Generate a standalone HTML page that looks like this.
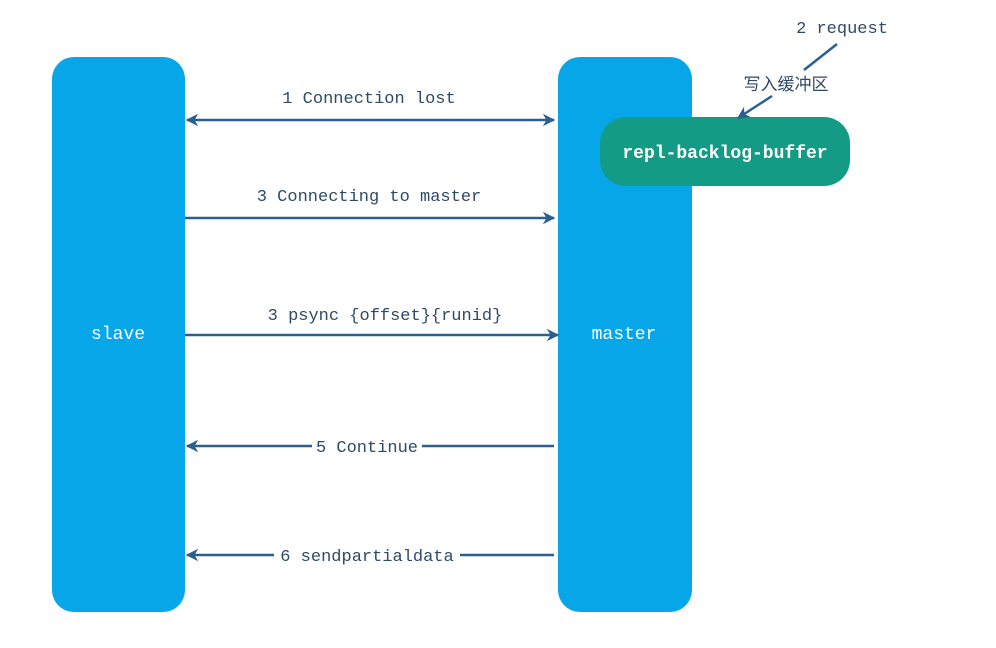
<!DOCTYPE html>
<html><head><meta charset="utf-8"><style>html,body{margin:0;padding:0;background:#fff}</style></head>
<body>
<svg width="996" height="643" viewBox="0 0 996 643" xmlns="http://www.w3.org/2000/svg">
<defs>
<marker id="a" viewBox="0 0 10 10" refX="9" refY="5" markerWidth="5" markerHeight="5" orient="auto-start-reverse"><path d="M0,0 L10,5 L0,10 L3,5 z" fill="#2b5f8e"/></marker>
</defs>
<rect x="52" y="57" width="133" height="555" rx="22" fill="#06a6e8"/>
<rect x="558" y="57" width="134" height="555" rx="22" fill="#06a6e8"/>
<rect x="600" y="117" width="250" height="69" rx="26" fill="#139b86"/>
<g font-family="Liberation Mono, monospace" font-size="18" fill="#fff" text-anchor="middle">
<text x="118" y="339">slave</text>
<text x="624" y="339">master</text>
<text x="725" y="158" font-weight="bold">repl-backlog-buffer</text>
</g>
<g stroke="#2b5f8e" stroke-width="2.5" fill="none">
<line x1="187" y1="120" x2="554" y2="120" marker-start="url(#a)" marker-end="url(#a)"/>
<line x1="185" y1="218" x2="554" y2="218" marker-end="url(#a)"/>
<line x1="185" y1="335" x2="558" y2="335" marker-end="url(#a)"/>
<line x1="187" y1="446" x2="312" y2="446" marker-start="url(#a)"/>
<line x1="422" y1="446" x2="554" y2="446"/>
<line x1="187" y1="555" x2="274" y2="555" marker-start="url(#a)"/>
<line x1="460" y1="555" x2="554" y2="555"/>
<line x1="837" y1="44" x2="804" y2="70"/>
<line x1="772" y1="96" x2="738" y2="118" marker-end="url(#a)"/>
</g>
<g font-family="Liberation Mono, monospace" font-size="17" fill="#2f4a66" text-anchor="middle">
<text x="369" y="103">1 Connection lost</text>
<text x="369" y="201">3 Connecting to master</text>
<text x="385" y="320">3 psync {offset}{runid}</text>
<text x="367" y="452">5 Continue</text>
<text x="367" y="561">6 sendpartialdata</text>
<text x="842" y="33">2 request</text>
<text x="786" y="90" font-family="Liberation Sans, Noto Sans CJK SC, sans-serif">写入缓冲区</text>
</g>
</svg>
</body></html>
